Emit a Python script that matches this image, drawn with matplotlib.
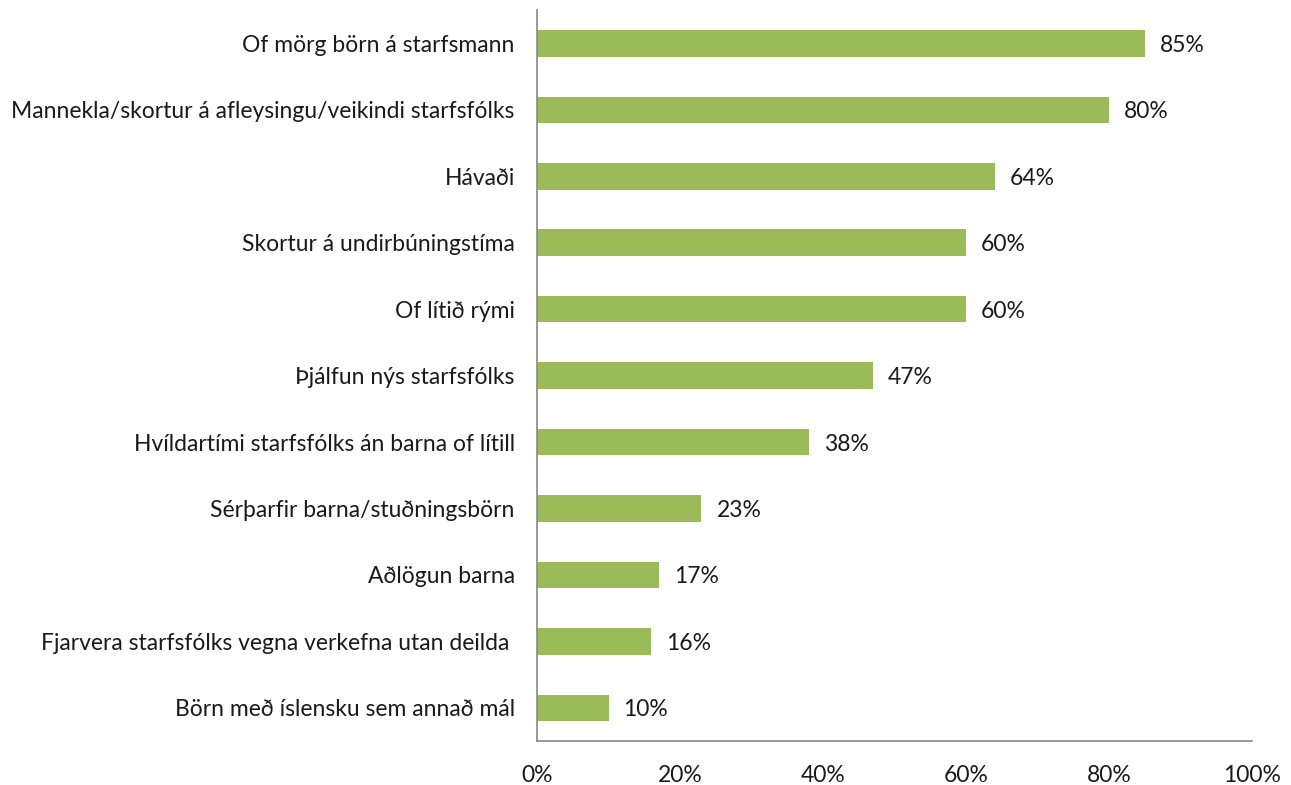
import matplotlib
matplotlib.use('Agg')
import matplotlib.pyplot as plt

plt.rcParams['font.family'] = ['Lato', 'DejaVu Sans']

categories = [
    'Of mörg börn á starfsmann',
    'Mannekla/skortur á afleysingu/veikindi starfsfólks',
    'Hávaði',
    'Skortur á undirbúningstíma',
    'Of lítið rými',
    'Þjálfun nýs starfsfólks',
    'Hvíldartími starfsfólks án barna of lítill',
    'Sérþarfir barna/stuðningsbörn',
    'Aðlögun barna',
    'Fjarvera starfsfólks vegna verkefna utan deilda ',
    'Börn með íslensku sem annað mál',
]
values = [85, 80, 64, 60, 60, 47, 38, 23, 17, 16, 10]
xticks = [0, 20, 40, 60, 80, 100]

fs = 16.5
fig = plt.figure(figsize=(12.91, 7.85), dpi=100)
ax = fig.add_axes([0.416, 0.056, 0.5538, 0.931])

ypos = list(range(len(categories)))[::-1]
ax.barh(ypos, values, height=0.4, color='#9BBB59')
for y, v in zip(ypos, values):
    ax.text(v + 2.1, y - 0.03, f'{v}%', va='center', ha='left', fontsize=fs, color='#1a1a1a')

ax.set_xlim(0, 100)
ax.set_ylim(-0.5, len(categories) - 0.5)
ax.set_yticks(ypos)
ax.set_yticklabels(categories, fontsize=fs, color='#1a1a1a')
ax.set_xticks(xticks)
ax.set_xticklabels([f'{t}%' for t in xticks], fontsize=fs, color='#1a1a1a')
ax.tick_params(axis='both', length=0)
ax.tick_params(axis='y', pad=16)
ax.tick_params(axis='x', pad=17)

for s in ['top', 'right']:
    ax.spines[s].set_visible(False)
for s in ['left', 'bottom']:
    ax.spines[s].set_color('#888888')
    ax.spines[s].set_linewidth(1.2)

fig.savefig('out.png', dpi=100)
